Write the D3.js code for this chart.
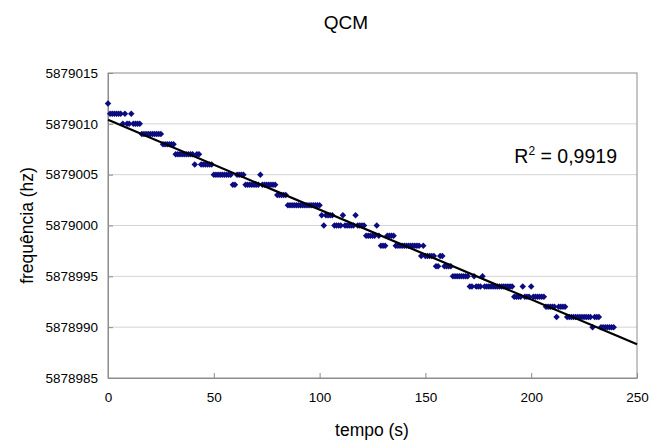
<!DOCTYPE html>
<html>
<head>
<meta charset="utf-8">
<script src="https://cdn.jsdelivr.net/npm/d3@7"></script>
<style>
  body { margin: 0; background: #fff; }
  text { font-family: "Liberation Sans", Arial, sans-serif; fill: #000; }
</style>
</head>
<body>
<div id="chart"></div>
<script>
// Readings (one per second)
const tempo = [
  0,1,2,3,4,5,6,7,8,9,10,11,12,13,14,15,16,17,18,19,
  20,21,22,23,24,25,26,27,28,29,30,31,32,33,34,35,36,37,38,39,
  40,41,42,43,44,45,46,47,48,49,50,51,52,53,54,55,56,57,58,59,
  60,61,62,63,64,65,66,67,68,69,70,71,72,73,74,75,76,77,78,79,
  80,81,82,83,84,85,86,87,88,89,90,91,92,93,94,95,96,97,98,99,
  100,101,102,103,104,105,106,107,108,109,110,111,112,113,114,115,116,117,118,119,
  120,121,122,123,124,125,126,127,128,129,130,131,132,133,134,135,136,137,138,139,
  140,141,142,143,144,145,146,147,148,149,150,151,152,153,154,155,156,157,158,159,
  160,161,162,163,164,165,166,167,168,169,170,171,172,173,174,175,176,177,178,179,
  180,181,182,183,184,185,186,187,188,189,190,191,192,193,194,195,196,197,198,199,
  200,201,202,203,204,205,206,207,208,209,210,211,212,213,214,215,216,217,218,219,
  220,221,222,223,224,225,226,227,228,229,230,231,232,233,234,235,236,237,238,239
];
const frequencia = [
  5879012,5879011,5879011,5879011,5879011,5879011,5879011,5879010,5879011,5879010,
  5879010,5879011,5879010,5879010,5879010,5879010,5879009,5879009,5879009,5879009,
  5879009,5879009,5879009,5879009,5879009,5879009,5879008,5879008,5879008,5879008,
  5879008,5879008,5879007,5879007,5879007,5879007,5879007,5879007,5879007,5879007,
  5879007,5879006,5879007,5879007,5879006,5879006,5879006,5879006,5879006,5879006,
  5879005,5879005,5879005,5879005,5879005,5879005,5879005,5879005,5879005,5879004,
  5879004,5879005,5879005,5879005,5879005,5879004,5879004,5879004,5879004,5879004,
  5879004,5879004,5879005,5879004,5879004,5879004,5879004,5879004,5879004,5879004,
  5879003,5879003,5879003,5879003,5879003,5879002,5879002,5879002,5879002,5879002,
  5879002,5879002,5879002,5879002,5879002,5879002,5879002,5879002,5879002,5879002,
  5879002,5879001,5879000,5879001,5879001,5879001,5879001,5879000,5879000,5879000,
  5879000,5879001,5879000,5879000,5879000,5879000,5879000,5879001,5879000,5879000,
  5879000,5879000,5878999,5878999,5878999,5878999,5878999,5879000,5878999,5878998,
  5878998,5878998,5878999,5878999,5878999,5878999,5878998,5878998,5878998,5878998,
  5878998,5878998,5878998,5878998,5878998,5878998,5878998,5878998,5878997,5878998,
  5878997,5878997,5878997,5878997,5878997,5878996,5878996,5878997,5878997,5878996,
  5878996,5878996,5878996,5878995,5878995,5878995,5878995,5878995,5878995,5878995,
  5878995,5878994,5878994,5878995,5878994,5878994,5878994,5878995,5878994,5878994,
  5878994,5878994,5878994,5878994,5878994,5878994,5878994,5878994,5878994,5878994,
  5878994,5878994,5878993,5878993,5878993,5878993,5878994,5878993,5878993,5878993,
  5878994,5878993,5878993,5878993,5878993,5878993,5878993,5878992,5878992,5878992,
  5878992,5878992,5878991,5878992,5878992,5878992,5878992,5878991,5878991,5878991,
  5878991,5878991,5878991,5878991,5878991,5878991,5878991,5878991,5878991,5878990,
  5878991,5878991,5878991,5878990,5878990,5878990,5878990,5878990,5878990,5878990
];
const xTicks = [0, 50, 100, 150, 200, 250];
const yTicks = [5878985, 5878990, 5878995, 5879000, 5879005, 5879010, 5879015];
const r2Label = "0,9919";

const width = 653, height = 444;
const margin = { top: 73, right: 16, bottom: 66, left: 108 };

const svg = d3.select("#chart").append("svg")
    .attr("width", width)
    .attr("height", height);

const x = d3.scaleLinear().domain([0, 250]).range([margin.left, width - margin.right]);
const y = d3.scaleLinear().domain([5878985, 5879015]).range([height - margin.bottom, margin.top]);

// Gridlines
svg.append("g")
    .selectAll("line")
    .data(yTicks.slice(1, -1))
    .join("line")
    .attr("x1", x(0)).attr("x2", x(250))
    .attr("y1", d => y(d)).attr("y2", d => y(d))
    .attr("stroke", "#d4d4d4");

// Plot border
svg.append("rect")
    .attr("x", x(0)).attr("y", y(5879015))
    .attr("width", x(250) - x(0)).attr("height", y(5878985) - y(5879015))
    .attr("fill", "none")
    .attr("stroke", "#8c8c8c");

// Axes
const xAxis = svg.append("g")
    .attr("transform", `translate(0,${y(5878985)})`)
    .call(d3.axisBottom(x).tickValues(xTicks).tickSizeInner(-5).tickSizeOuter(0).tickPadding(14));
const yAxis = svg.append("g")
    .attr("transform", `translate(${x(0)},0)`)
    .call(d3.axisLeft(y).tickValues(yTicks).tickFormat(d3.format("d")).tickSizeInner(-5).tickSizeOuter(0).tickPadding(10));

[xAxis, yAxis].forEach(a => {
    a.select(".domain").attr("stroke", "#8c8c8c");
    a.selectAll(".tick line").attr("stroke", "#8c8c8c");
    a.selectAll(".tick text").attr("font-size", 13.5).attr("fill", "#000")
        .style("font-family", "'Liberation Sans', Arial, sans-serif");
});

// Points (diamonds: rotated squares)
const points = tempo.map((t, i) => ({ t, f: frequencia[i] }));
svg.append("g")
    .selectAll("path")
    .data(points)
    .join("path")
    .attr("d", d3.symbol().type(d3.symbolSquare).size(21))
    .attr("transform", d => `translate(${x(d.t)},${y(d.f)}) rotate(45)`)
    .attr("fill", "#0c0c80");

// Linear trend line (least squares)
const mx = d3.mean(tempo), my = d3.mean(frequencia);
const sxy = d3.sum(points, d => (d.t - mx) * (d.f - my));
const sxx = d3.sum(points, d => (d.t - mx) ** 2);
const slope = sxy / sxx;
const intercept = my - slope * mx;
svg.append("line")
    .attr("x1", x(0)).attr("y1", y(intercept))
    .attr("x2", x(250)).attr("y2", y(intercept + slope * 250))
    .attr("stroke", "#000")
    .attr("stroke-width", 2.2);

// Texts
svg.append("text")
    .attr("x", 346).attr("y", 29)
    .attr("text-anchor", "middle")
    .attr("font-size", 19)
    .text("QCM");

svg.append("text")
    .attr("x", 372).attr("y", 436)
    .attr("text-anchor", "middle")
    .attr("font-size", 17.5)
    .text("tempo (s)");

svg.append("text")
    .attr("transform", `translate(33,${(y(5878985) + y(5879015)) / 2}) rotate(-90)`)
    .attr("text-anchor", "middle")
    .attr("font-size", 17.5)
    .text("frequência (hz)");

const r2 = svg.append("text")
    .attr("x", 617).attr("y", 163)
    .attr("text-anchor", "end")
    .attr("font-size", 19.5);
r2.append("tspan").text("R");
r2.append("tspan").attr("dy", -8).attr("font-size", 12).text("2");
r2.append("tspan").attr("dy", 8).text(" = " + r2Label);
</script>
</body>
</html>
